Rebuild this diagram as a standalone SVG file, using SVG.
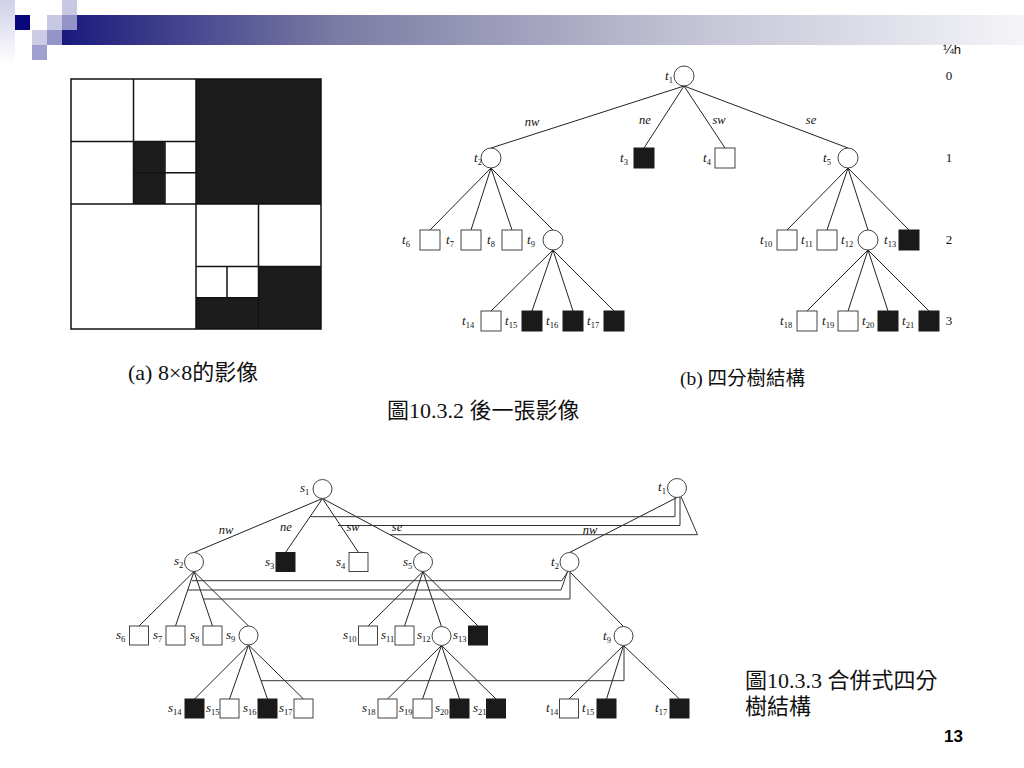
<svg xmlns="http://www.w3.org/2000/svg" width="1024" height="768" viewBox="0 0 1024 768">
<defs>
<linearGradient id="bar" gradientUnits="userSpaceOnUse" x1="62" y1="0" x2="1024" y2="0">
<stop offset="0" stop-color="#1a1a7e"/>
<stop offset="0.289" stop-color="#7c7ca4"/>
<stop offset="0.66" stop-color="#c4c4d6"/>
<stop offset="1" stop-color="#f4f4f8"/>
</linearGradient>
<linearGradient id="strip" x1="0" y1="0" x2="0" y2="1">
<stop offset="0" stop-color="#d0d0e8"/>
<stop offset="1" stop-color="#ffffff"/>
</linearGradient>
</defs>
<style>
.ln{stroke:#222;stroke-width:1;fill:none}
.mg{stroke:#333;stroke-width:1;fill:none}
.wn{fill:#fff;stroke:#444;stroke-width:1}
.bn{fill:#1a1a1a;stroke:#1a1a1a;stroke-width:1}
.lbl{font-family:"Liberation Serif",serif;font-style:italic;font-size:13px;fill:#111}
.sub{font-size:8.5px;font-style:normal}
.el{font-family:"Liberation Serif",serif;font-style:italic;font-size:12.5px;fill:#111;text-anchor:middle}
.lv{font-family:"Liberation Serif",serif;font-size:13px;fill:#111;text-anchor:middle}
.cap{font-family:"Liberation Serif","Noto Sans CJK TC",serif;font-size:22px;fill:#111}
.img{stroke:#111;stroke-width:1.5;fill:none}
.blk{fill:#1c1c1c}
</style>
<rect width="1024" height="768" fill="#fff"/>
<g id="header">
<rect x="0" y="0" width="15" height="65" fill="url(#strip)"/>
<rect x="62" y="15" width="962" height="30" fill="url(#bar)"/>
<rect x="15" y="15" width="15" height="15" fill="#08087c"/>
<rect x="47" y="15" width="15" height="15" fill="#c8c8e2"/>
<rect x="62" y="0" width="15" height="15" fill="#c8c8e2"/>
<rect x="62" y="15" width="15" height="15" fill="#9494c8"/>
<rect x="32" y="30" width="15" height="15" fill="#ccccE4"/>
<rect x="47" y="30" width="15" height="15" fill="#9494c8"/>
<rect x="32" y="45" width="15" height="15" fill="#a0a0d0"/>
</g>
<g id="image-a">
<rect class="blk" x="196" y="79" width="125" height="125"/>
<rect class="blk" x="133.5" y="141.5" width="31.25" height="62.5"/>
<rect class="blk" x="258.5" y="266.5" width="62.5" height="62.5"/>
<rect class="blk" x="196" y="297.75" width="62.5" height="31.25"/>
<rect class="img" x="71" y="79" width="250" height="250"/>
<path class="img" d="M133.5,79V204M196,79V329M71,141.5H196M71,204H321M165,141.5V204M133.5,172.75H196M258.5,204V329M196,266.5H321M196,297.75H258.5M227,266.5V297.75"/>
</g>
<g id="tree-b-edges">
<path class="ln" d="M684,86L491,148M684,86L644,148M684,86L725,148M684,86L848,148"/>
<path class="ln" d="M491,168L430,230M491,168L471,230M491,168L512,230M491,168L553,230"/>
<path class="ln" d="M848,168L787,230M848,168L827,230M848,168L868,230M848,168L909,230"/>
<path class="ln" d="M553,250L491,311M553,250L532,311M553,250L573,311M553,250L614,311"/>
<path class="ln" d="M868,250L807,311M868,250L848,311M868,250L888,311M868,250L929,311"/>
<text class="el" x="532" y="126">nw</text>
<text class="el" x="645" y="124">ne</text>
<text class="el" x="719" y="124">sw</text>
<text class="el" x="811" y="124">se</text>
</g>
<g id="tree-b-nodes">
<g id="bt1"><circle class="wn" cx="684" cy="76" r="10"/><text class="lbl" x="665" y="80">t<tspan class="sub" dy="3">1</tspan></text></g>
<g id="bt2"><circle class="wn" cx="491" cy="158" r="10"/><text class="lbl" x="474" y="162">t<tspan class="sub" dy="3">2</tspan></text></g>
<g id="bt3"><rect class="bn" x="634" y="148" width="20" height="20"/><text class="lbl" x="620" y="162">t<tspan class="sub" dy="3">3</tspan></text></g>
<g id="bt4"><rect class="wn" x="715" y="148" width="20" height="20"/><text class="lbl" x="703" y="162">t<tspan class="sub" dy="3">4</tspan></text></g>
<g id="bt5"><circle class="wn" cx="848" cy="158" r="10"/><text class="lbl" x="823" y="162">t<tspan class="sub" dy="3">5</tspan></text></g>
<g id="bt6"><rect class="wn" x="420" y="230" width="20" height="20"/><text class="lbl" x="402" y="244">t<tspan class="sub" dy="3">6</tspan></text></g>
<g id="bt7"><rect class="wn" x="461" y="230" width="20" height="20"/><text class="lbl" x="446" y="244">t<tspan class="sub" dy="3">7</tspan></text></g>
<g id="bt8"><rect class="wn" x="502" y="230" width="20" height="20"/><text class="lbl" x="487" y="244">t<tspan class="sub" dy="3">8</tspan></text></g>
<g id="bt9"><circle class="wn" cx="553" cy="240" r="10"/><text class="lbl" x="527" y="244">t<tspan class="sub" dy="3">9</tspan></text></g>
<g id="bt10"><rect class="wn" x="777" y="230" width="20" height="20"/><text class="lbl" x="760" y="244">t<tspan class="sub" dy="3">10</tspan></text></g>
<g id="bt11"><rect class="wn" x="817" y="230" width="20" height="20"/><text class="lbl" x="801" y="244">t<tspan class="sub" dy="3">11</tspan></text></g>
<g id="bt12"><circle class="wn" cx="868" cy="240" r="10"/><text class="lbl" x="841" y="244">t<tspan class="sub" dy="3">12</tspan></text></g>
<g id="bt13"><rect class="bn" x="899" y="230" width="20" height="20"/><text class="lbl" x="884" y="244">t<tspan class="sub" dy="3">13</tspan></text></g>
<g id="bt14"><rect class="wn" x="481" y="311" width="20" height="20"/><text class="lbl" x="462" y="325">t<tspan class="sub" dy="3">14</tspan></text></g>
<g id="bt15"><rect class="bn" x="522" y="311" width="20" height="20"/><text class="lbl" x="505" y="325">t<tspan class="sub" dy="3">15</tspan></text></g>
<g id="bt16"><rect class="bn" x="563" y="311" width="20" height="20"/><text class="lbl" x="546" y="325">t<tspan class="sub" dy="3">16</tspan></text></g>
<g id="bt17"><rect class="bn" x="604" y="311" width="20" height="20"/><text class="lbl" x="587" y="325">t<tspan class="sub" dy="3">17</tspan></text></g>
<g id="bt18"><rect class="wn" x="797" y="311" width="20" height="20"/><text class="lbl" x="780" y="325">t<tspan class="sub" dy="3">18</tspan></text></g>
<g id="bt19"><rect class="wn" x="838" y="311" width="20" height="20"/><text class="lbl" x="822" y="325">t<tspan class="sub" dy="3">19</tspan></text></g>
<g id="bt20"><rect class="bn" x="878" y="311" width="20" height="20"/><text class="lbl" x="862" y="325">t<tspan class="sub" dy="3">20</tspan></text></g>
<g id="bt21"><rect class="bn" x="919" y="311" width="20" height="20"/><text class="lbl" x="902" y="325">t<tspan class="sub" dy="3">21</tspan></text></g>
</g>
<g id="levels">
<text x="943" y="54" style="font-family:'Liberation Sans',sans-serif;font-size:13px;fill:#111">¼h</text>
<text class="lv" x="949" y="80">0</text>
<text class="lv" x="949" y="162">1</text>
<text class="lv" x="949" y="244">2</text>
<text class="lv" x="949" y="325">3</text>
</g>
<g id="captions">
<text class="cap" x="128" y="380">(a) 8×8的影像</text>
<text class="cap" x="680" y="385" style="font-size:19.5px">(b) 四分樹結構</text>
<text class="cap" x="387" y="418">圖10.3.2 後一張影像</text>
<text class="cap" x="745" y="688">圖10.3.3 合併式四分</text>
<text class="cap" x="745" y="714">樹結構</text>
<text x="944" y="742" style="font-family:'Liberation Sans',sans-serif;font-weight:bold;font-size:17px;fill:#000">13</text>
</g>
<g id="tree-c-edges">
<path class="ln" d="M322.5,498.5L194,552.5M322.5,498.5L285.5,552.5M322.5,498.5L358.5,552.5M322.5,498.5L423,552.5"/>
<path class="ln" d="M677,497.5L569.5,552.5"/>
<path class="ln" d="M194,571.5L139,626M194,571.5L175.5,626M194,571.5L212.5,626M194,571.5L248.5,626"/>
<path class="ln" d="M423,571.5L368,626M423,571.5L404.5,626M423,571.5L441.5,626.5M423,571.5L478,626"/>
<path class="ln" d="M569.5,571.5L623.5,626.5"/>
<path class="ln" d="M248.5,645L194.5,699M248.5,645L229.5,699M248.5,645L267.5,699M248.5,645L303.5,699"/>
<path class="ln" d="M441.5,645.5L387.5,699M441.5,645.5L422.5,699M441.5,645.5L459.5,699M441.5,645.5L496,699"/>
<path class="ln" d="M623.5,645.5L569,699M623.5,645.5L606.5,699M623.5,645.5L679.5,699"/>
<path class="mg" d="M310,516.7H675V497.3"/>
<path class="mg" d="M338,525.5H680V497"/>
<path class="mg" d="M390.5,534.7H697.5L681,496.5"/>
<path class="mg" d="M192,580.7H561.7L568,571.5"/>
<path class="mg" d="M187.6,590H561L567.5,571.5"/>
<path class="mg" d="M203.4,599H570V571.5"/>
<path class="mg" d="M261,680.7H624V645.5"/>
<text class="el" x="226" y="534">nw</text>
<text class="el" x="286" y="531">ne</text>
<text class="el" x="353" y="531">sw</text>
<text class="el" x="397" y="531">se</text>
<text class="el" x="590" y="534">nw</text>
</g>
<g id="tree-c-nodes">
<g id="cs1"><circle class="wn" cx="322.5" cy="489" r="9.5"/><text class="lbl" x="300" y="492">s<tspan class="sub" dy="3">1</tspan></text></g>
<g id="ct1"><circle class="wn" cx="677" cy="488" r="9.5"/><text class="lbl" x="658" y="491">t<tspan class="sub" dy="3">1</tspan></text></g>
<g id="cs2"><circle class="wn" cx="194" cy="562" r="9.5"/><text class="lbl" x="174" y="565">s<tspan class="sub" dy="3">2</tspan></text></g>
<g id="cs3"><rect class="bn" x="276" y="552.5" width="19" height="19"/><text class="lbl" x="265" y="566">s<tspan class="sub" dy="3">3</tspan></text></g>
<g id="cs4"><rect class="wn" x="349" y="552.5" width="19" height="19"/><text class="lbl" x="336" y="566">s<tspan class="sub" dy="3">4</tspan></text></g>
<g id="cs5"><circle class="wn" cx="423" cy="562" r="9.5"/><text class="lbl" x="403" y="566">s<tspan class="sub" dy="3">5</tspan></text></g>
<g id="ct2"><circle class="wn" cx="569.5" cy="562" r="9.5"/><text class="lbl" x="551" y="566">t<tspan class="sub" dy="3">2</tspan></text></g>
<g id="cs6"><rect class="wn" x="129.5" y="626" width="19" height="19"/><text class="lbl" x="116" y="639">s<tspan class="sub" dy="3">6</tspan></text></g>
<g id="cs7"><rect class="wn" x="166" y="626" width="19" height="19"/><text class="lbl" x="153" y="639">s<tspan class="sub" dy="3">7</tspan></text></g>
<g id="cs8"><rect class="wn" x="203" y="626" width="19" height="19"/><text class="lbl" x="190" y="639">s<tspan class="sub" dy="3">8</tspan></text></g>
<g id="cs9"><circle class="wn" cx="248.5" cy="635.5" r="9.5"/><text class="lbl" x="226" y="639">s<tspan class="sub" dy="3">9</tspan></text></g>
<g id="cs10"><rect class="wn" x="358.5" y="626" width="19" height="19"/><text class="lbl" x="343" y="639">s<tspan class="sub" dy="3">10</tspan></text></g>
<g id="cs11"><rect class="wn" x="395" y="626" width="19" height="19"/><text class="lbl" x="381" y="639">s<tspan class="sub" dy="3">11</tspan></text></g>
<g id="cs12"><circle class="wn" cx="441.5" cy="636" r="9.5"/><text class="lbl" x="417" y="639">s<tspan class="sub" dy="3">12</tspan></text></g>
<g id="cs13"><rect class="bn" x="468.5" y="626" width="19" height="19"/><text class="lbl" x="453" y="639">s<tspan class="sub" dy="3">13</tspan></text></g>
<g id="ct9"><circle class="wn" cx="623.5" cy="636" r="9.5"/><text class="lbl" x="603" y="640">t<tspan class="sub" dy="3">9</tspan></text></g>
<g id="cs14"><rect class="bn" x="185" y="699" width="19" height="19"/><text class="lbl" x="168" y="712">s<tspan class="sub" dy="3">14</tspan></text></g>
<g id="cs15"><rect class="wn" x="220" y="699" width="19" height="19"/><text class="lbl" x="206" y="712">s<tspan class="sub" dy="3">15</tspan></text></g>
<g id="cs16"><rect class="bn" x="258" y="699" width="19" height="19"/><text class="lbl" x="243" y="712">s<tspan class="sub" dy="3">16</tspan></text></g>
<g id="cs17"><rect class="wn" x="294" y="699" width="19" height="19"/><text class="lbl" x="279" y="712">s<tspan class="sub" dy="3">17</tspan></text></g>
<g id="cs18"><rect class="wn" x="378" y="699" width="19" height="19"/><text class="lbl" x="362" y="712">s<tspan class="sub" dy="3">18</tspan></text></g>
<g id="cs19"><rect class="wn" x="413" y="699" width="19" height="19"/><text class="lbl" x="399" y="712">s<tspan class="sub" dy="3">19</tspan></text></g>
<g id="cs20"><rect class="bn" x="450" y="699" width="19" height="19"/><text class="lbl" x="435" y="712">s<tspan class="sub" dy="3">20</tspan></text></g>
<g id="cs21"><rect class="bn" x="486.5" y="699" width="19" height="19"/><text class="lbl" x="473" y="712">s<tspan class="sub" dy="3">21</tspan></text></g>
<g id="ct14"><rect class="wn" x="559.5" y="699" width="19" height="19"/><text class="lbl" x="546" y="712">t<tspan class="sub" dy="3">14</tspan></text></g>
<g id="ct15"><rect class="bn" x="597" y="699" width="19" height="19"/><text class="lbl" x="582" y="712">t<tspan class="sub" dy="3">15</tspan></text></g>
<g id="ct17"><rect class="bn" x="670" y="699" width="19" height="19"/><text class="lbl" x="655" y="712">t<tspan class="sub" dy="3">17</tspan></text></g>
</g>
</svg>
